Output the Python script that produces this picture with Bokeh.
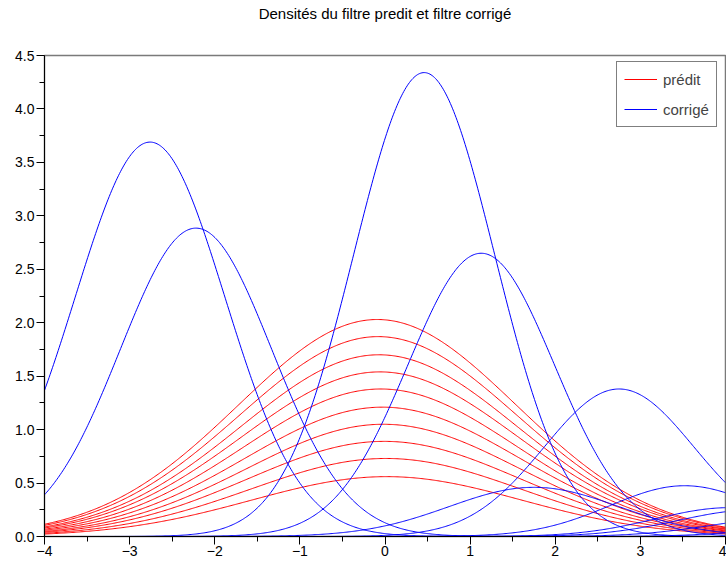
import numpy as np
from bokeh.plotting import figure
from bokeh.models import Range1d, FixedTicker, Legend, LegendItem, Title
from bokeh.embed import file_html
from bokeh.resources import INLINE

title_text = "Densités du filtre predit et filtre corrigé"
legend_labels = ["prédit", "corrigé"]

x_ticks = [-4, -3, -2, -1, 0, 1, 2, 3, 4]
x_tick_labels = ["\u22124", "\u22123", "\u22122", "\u22121", "0", "1", "2", "3", "4"]
y_ticks = [0.0, 0.5, 1.0, 1.5, 2.0, 2.5, 3.0, 3.5, 4.0, 4.5]
y_tick_labels = ["0.0", "0.5", "1.0", "1.5", "2.0", "2.5", "3.0", "3.5", "4.0", "4.5"]

# predicted densities (red): mean, peak height, std-dev
pred_means = [-0.09, -0.08, -0.07, -0.06, -0.05, -0.03, -0.02, -0.01, 0.01, 0.02]
pred_peaks = [2.03, 1.87, 1.70, 1.54, 1.38, 1.21, 1.05, 0.89, 0.73, 0.56]
pred_sigmas = [1.63, 1.63, 1.62, 1.62, 1.61, 1.61, 1.60, 1.60, 1.59, 1.59]

# corrected densities (blue)
corr_means = [-2.76, -2.22, 0.46, 1.13, 2.75, 3.52, 1.75, 4.05, 4.35, 4.70, 5.30]
corr_peaks = [3.69, 2.885, 4.34, 2.65, 1.38, 0.475, 0.46, 0.27, 0.25, 0.17, 0.10]
corr_sigmas = [0.88, 0.89, 0.83, 0.86, 0.88, 0.88, 1.00, 0.88, 0.90, 0.88, 0.88]

FONT = "Liberation Sans"
RED = "#ff0000"
BLUE = "#0000ff"

p = figure(width=726, height=565, output_backend="svg", toolbar_location=None,
           x_range=Range1d(-4, 4), y_range=Range1d(0, 4.5),
           min_border_left=44, min_border_right=1, min_border_top=55, min_border_bottom=29)

p.title.text = ""
# spacer panel between frame and title, then the title itself (outermost)
p.add_layout(Title(text=" ", text_font=FONT, text_font_size="15px", standoff=15), "above")
p.add_layout(Title(text=title_text, align="center", standoff=0, text_font=FONT,
                   text_font_size="15px", text_font_style="normal", text_color="#000000"), "above")

p.xgrid.visible = False
p.ygrid.visible = False
p.outline_line_color = "#7a7a7a"
p.outline_line_width = 1.5
p.background_fill_color = "white"
p.border_fill_color = "white"

xs = np.linspace(-4, 4, 600)

red_renderers = []
for m, a, s in zip(pred_means, pred_peaks, pred_sigmas):
    red_renderers.append(p.line(xs, a * np.exp(-((xs - m) ** 2) / (2 * s * s)),
                                line_color=RED, line_width=1))

blue_renderers = []
for m, a, s in zip(corr_means, corr_peaks, corr_sigmas):
    blue_renderers.append(p.line(xs, a * np.exp(-((xs - m) ** 2) / (2 * s * s)),
                                 line_color=BLUE, line_width=1))

for ax, ticks, labels, minors in (
    (p.xaxis[0], x_ticks, x_tick_labels, [t + 0.5 for t in x_ticks[:-1]]),
    (p.yaxis[0], y_ticks, y_tick_labels, [t + 0.25 for t in y_ticks[:-1]]),
):
    ax.ticker = FixedTicker(ticks=ticks, minor_ticks=minors)
    ax.major_label_overrides = {t: l for t, l in zip(ticks, labels)}
    ax.axis_line_color = "black"
    ax.axis_line_width = 1
    ax.major_tick_line_color = "black"
    ax.minor_tick_line_color = "black"
    ax.major_tick_in = 0
    ax.minor_tick_in = 0
    ax.major_tick_out = 8
    ax.minor_tick_out = 5
    ax.major_label_text_font = FONT
    ax.major_label_text_font_size = "14px"
    ax.major_label_text_color = "black"

p.xaxis[0].major_label_standoff = 1
p.yaxis[0].major_label_standoff = 2

legend = Legend(items=[LegendItem(label=legend_labels[0], renderers=[red_renderers[0]]),
                       LegendItem(label=legend_labels[1], renderers=[blue_renderers[0]])],
                location=(572, 409), margin=0, padding=7, spacing=10,
                glyph_width=33, glyph_height=20, label_height=20, label_standoff=6,
                label_text_font=FONT, label_text_font_size="15px",
                border_line_color="black", border_line_width=1,
                background_fill_color="white", background_fill_alpha=1)
p.add_layout(legend, "center")

open("out.html", "w").write(file_html(p, INLINE))
